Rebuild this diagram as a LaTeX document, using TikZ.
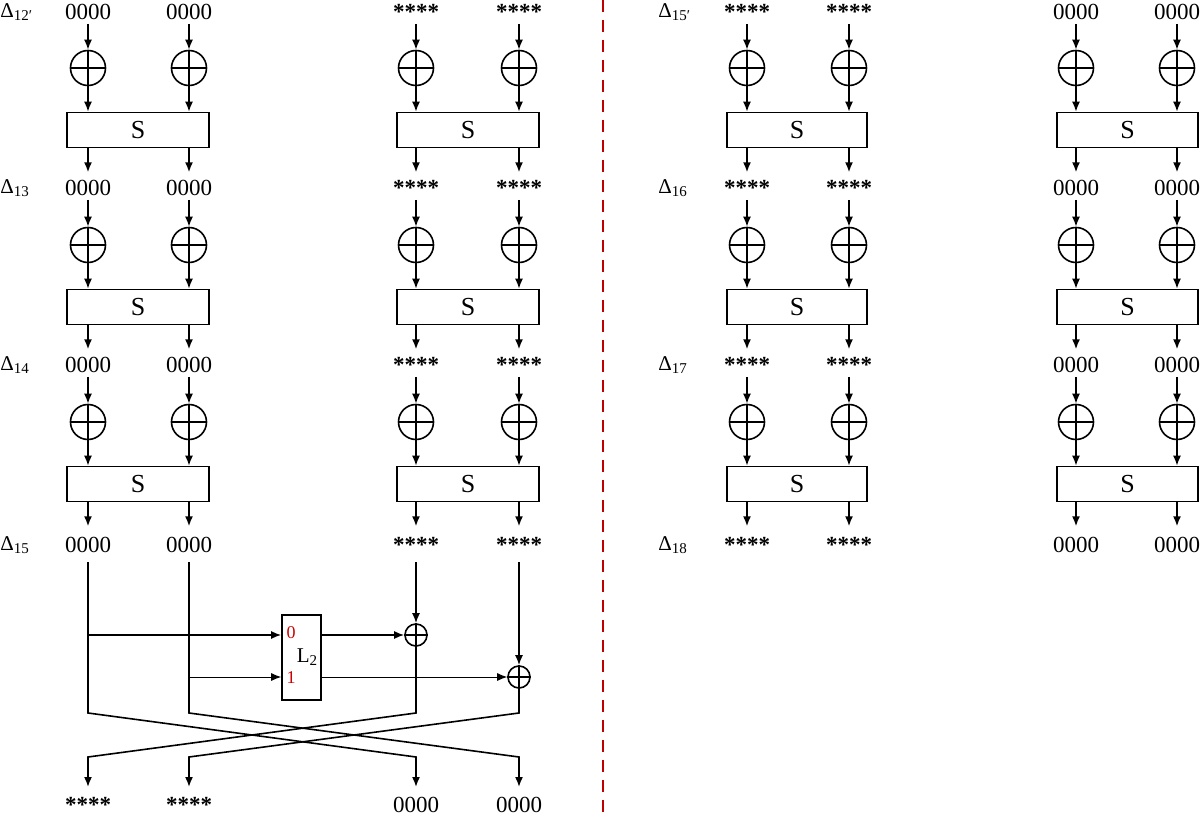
\documentclass[tikz,border=0pt]{standalone}
\usepackage{fontspec}
\setmainfont{Liberation Serif}
\usetikzlibrary{arrows.meta}
\begin{document}
\begin{tikzpicture}[x=0.5pt,y=-0.5pt,
  ln/.style={line width=0.8pt},
  ar/.style={ln,-{Latex[length=5pt,width=4pt]}},
  xo/.style={circle,draw,line width=0.8pt,minimum size=17.5pt,inner sep=0pt},
  sxo/.style={circle,draw,line width=0.8pt,minimum size=11pt,inner sep=0pt},
  sbox/.style={draw,line width=0.8pt,minimum width=71pt,minimum height=17.5pt,inner sep=0pt,font=\fontsize{13}{15}\selectfont},
  val/.style={font=\fontsize{11.5}{14}\selectfont,inner sep=0pt},
  lab/.style={font=\fontsize{10.5}{12}\selectfont,inner sep=0pt,anchor=west}]
\useasboundingbox (0,0) rectangle (1200,818);
\draw[red!75!black,line width=0.8pt,dash pattern=on 6pt off 4pt] (603,0) -- (603,818);
\foreach \g/\xa/\xb/\bl/\br/\v in {a/88/189/67/209/0000,b/416/519/397/539/{\textbf{****}},c/747/849/727/867/{\textbf{****}},d/1076/1177/1057/1198/0000}{
  \foreach \r/\yv/\yx/\ys in {0/12/68/130,1/188/245/307,2/365/422/484}{
    \node[val] (\g v\r a) at (\xa,\yv) {\v};
    \node[val] (\g v\r b) at (\xb,\yv) {\v};
    \node[xo] (\g x\r a) at (\xa,\yx) {};
    \node[xo] (\g x\r b) at (\xb,\yx) {};
    \draw[ln] (\g x\r a.west)--(\g x\r a.east) (\g x\r b.west)--(\g x\r b.east);
    \node[sbox,minimum width={(\br-\bl)*0.5pt}] (\g s\r) at ({(\bl+\br)/2},\ys) {S};
    \draw[ar] (\xa,{\yv+12}) -- (\g x\r a.north);
    \draw[ar] (\xb,{\yv+12}) -- (\g x\r b.north);
    \draw[ar] (\g x\r a.north) -- (\g x\r a|-\g s\r.north);
    \draw[ar] (\g x\r b.north) -- (\g x\r b|-\g s\r.north);
    \draw[ar] (\g s\r.south-|\g v\r a) -- ++(0,24);
    \draw[ar] (\g s\r.south-|\g v\r b) -- ++(0,24);
  }
  \node[val] (\g v3a) at (\xa,545) {\v};
  \node[val] (\g v3b) at (\xb,545) {\v};
}
\foreach \t/\x/\y in {{12′}/0/12,13/0/188,14/0/365,15/0/545,{15′}/658/12,16/658/188,17/658/365,18/658/545}{
  \node[lab] at (\x,\y) {Δ\raisebox{-0.35ex}{\fontsize{7.5}{9}\selectfont\t}};
}
\node[draw,line width=0.8pt,minimum width=19.5pt,minimum height=42.5pt,inner sep=0pt] (L) at (301.5,657.5) {};
\node at (307,657) {\fontsize{10.5}{12}\selectfont L\raisebox{-0.35ex}{\fontsize{7.5}{9}\selectfont 2}};
\node[red!80!black,font=\fontsize{9}{11}\selectfont] at (291,633) {0};
\node[red!80!black,font=\fontsize{9}{11}\selectfont] at (291,678) {1};
\node[sxo] (X0) at (416,635) {};
\node[sxo] (X1) at (519,677) {};
\draw[ln] (X0.west)--(X0.east) (X1.west)--(X1.east);
\coordinate (pa) at (88,635);
\coordinate (pb) at (189,677);
\draw[ar] (pa) -- (L.west|-pa);
\draw[ar,line width=0.5pt] (pb) -- (L.west|-pb);
\draw[ar] (L.east|-X0) -- (X0.west);
\draw[ar,line width=0.5pt] (L.east|-X1) -- (X1.west);
\draw[ar] (416,562) -- (X0.north);
\draw[ar] (519,562) -- (X1.north);
\node[val] (o1) at (88,805) {\textbf{****}};
\node[val] (o2) at (189,805) {\textbf{****}};
\node[val] (o3) at (416,805) {0000};
\node[val] (o4) at (519,805) {0000};
\draw[ar] (88,562) -- (88,713) -- (416,757) -- (416,787);
\draw[ar] (189,562) -- (189,713) -- (519,757) -- (519,787);
\draw[ar] (X0.north) -- (416,713) -- (88,757) -- (88,787);
\draw[ar] (X1.north) -- (519,713) -- (189,757) -- (189,787);
\end{tikzpicture}
\end{document}
